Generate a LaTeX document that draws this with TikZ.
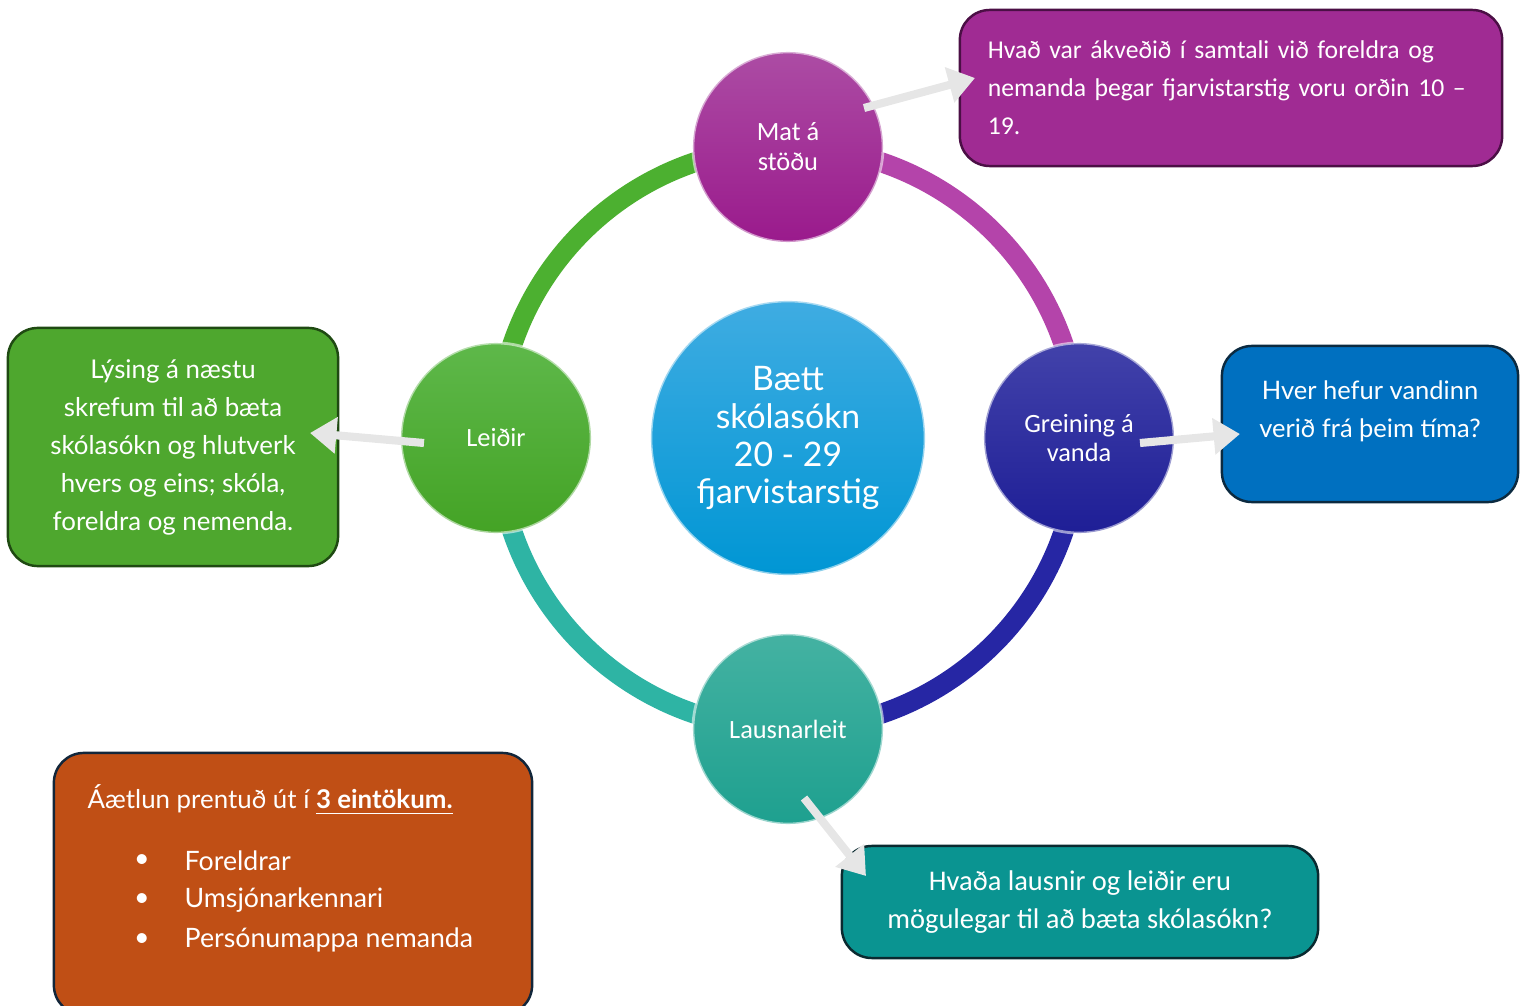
\documentclass[tikz,border=0pt]{standalone}
\usepackage{fontspec}
\setmainfont{Lato}
\newfontfamily\narrowfont{Carlito}
\usetikzlibrary{arrows.meta, positioning}

\definecolor{matcol}{HTML}{A02B93}
\definecolor{matedge}{HTML}{4B0F45}
\definecolor{greincol}{HTML}{0070C0}
\definecolor{greinedge}{HTML}{0B2A40}
\definecolor{leidcol}{HTML}{4EA72E}
\definecolor{leidedge}{HTML}{1F4A12}
\definecolor{lauscol}{HTML}{0A9491}
\definecolor{lausedge}{HTML}{0A2A30}
\definecolor{aaetcol}{HTML}{C04F15}
\definecolor{aaetedge}{HTML}{12263A}
\definecolor{arrowgray}{HTML}{E6E6E6}
% hringir
\definecolor{hubtop}{HTML}{3FACE2}
\definecolor{hubbot}{HTML}{0096D4}
\definecolor{mattop}{HTML}{AC4CA4}
\definecolor{matbot}{HTML}{9A1A8C}
\definecolor{greintop}{HTML}{4242AA}
\definecolor{greinbot}{HTML}{1E1E96}
\definecolor{laustop}{HTML}{44B2A2}
\definecolor{lausbot}{HTML}{1EA08F}
\definecolor{leidtop}{HTML}{5EB84A}
\definecolor{leidbot}{HTML}{44A325}
% hringur
\definecolor{ringmat}{HTML}{B444AA}
\definecolor{ringgrein}{HTML}{2626A4}
\definecolor{ringlaus}{HTML}{2EB4A4}
\definecolor{ringleid}{HTML}{4CB030}

\begin{document}
\begin{tikzpicture}[x=0.01cm, y=-0.01cm,
    ring/.style={line width=5.7pt},
    ball/.style={circle, minimum size=1.9cm, inner sep=0pt, text=white, align=center,
        draw=white, draw opacity=0.55, line width=0.8pt,
        font=\narrowfont\fontsize{7.5}{8.5}\selectfont},
    card/.style={rounded corners=0.3cm, line width=0.7pt, text=white, inner sep=0pt},
    cardtext/.style={text=white, align=center, font=\fontsize{7.3}{10.8}\selectfont},
    hint/.style={draw=arrowgray, line width=2.3pt, -{Triangle[width=10pt,length=7.5pt]}}]

    \useasboundingbox (0,0) rectangle (1520,1006);

    % hringur
    \coordinate (M) at (788,438);
    \draw[ring, ringmat] (M) ++(270:291) arc (270:360:291);
    \draw[ring, ringgrein] (M) ++(0:291) arc (0:90:291);
    \draw[ring, ringlaus] (M) ++(90:291) arc (90:180:291);
    \draw[ring, ringleid] (M) ++(180:291) arc (180:270:291);

    % hringir
    \node[ball, minimum size=2.74cm, top color=hubtop, bottom color=hubbot,
        font=\fontsize{9.6}{10.8}\selectfont] (hub) at (M) {Bætt\\skólasókn\\20 - 29\\fjarvistarstig};
    \node[ball, top color=mattop, bottom color=matbot] (mat) at (788,147) {Mat á\\stöðu};
    \node[ball, top color=greintop, bottom color=greinbot] (grein) at (1079,438) {Greining á\\vanda};
    \node[ball, top color=laustop, bottom color=lausbot] (laus) at (788,729) {Lausnarleit};
    \node[ball, top color=leidtop, bottom color=leidbot] (leid) at (496,438) {Leiðir};

    % kassar
    \node[card, fill=matcol, draw=matedge, minimum width=5.42cm, minimum height=1.56cm,
        text width=4.86cm, align=left, font=\narrowfont\fontsize{7.3}{10.8}\selectfont]
        (matbox) at (1231,88) {Hvað var ákveðið í samtali við foreldra og\\nemanda þegar fjarvistarstig voru orðin 10 –\\19.};
    \node[card, fill=greincol, draw=greinedge, minimum width=2.96cm, minimum height=1.56cm]
        (greinbox) at (1370,424) {};
    \node[cardtext, font=\fontsize{7.25}{10.8}\selectfont] (greintxt) at (1370,411) {Hver hefur vandinn\\verið frá þeim tíma?};
    \node[card, fill=leidcol, draw=leidedge, minimum width=3.3cm, minimum height=2.38cm, cardtext,
        font=\fontsize{7.35}{10.8}\selectfont]
        (leidbox) at (173,447) {Lýsing á næstu\\skrefum til að bæta\\skólasókn og hlutverk\\hvers og eins; skóla,\\foreldra og nemenda.};
    \node[card, fill=lauscol, draw=lausedge, minimum width=4.76cm, minimum height=1.12cm, cardtext,
        font=\narrowfont\fontsize{8.1}{10.8}\selectfont]
        (lausbox) at (1080,902) {Hvaða lausnir og leiðir eru\\mögulegar til að bæta skólasókn?};
    \node[card, fill=aaetcol, draw=aaetedge, minimum width=4.78cm, minimum height=2.62cm]
        (aaetbox) at (293,884) {};
    \node[anchor=west, inner sep=0pt, text=white, font=\fontsize{7.35}{9}\selectfont] (aaettitle) at (87,800)
        {Áætlun prentuð út í \underline{\textbf{3 eintökum.}}};
    \foreach \item/\ypos [count=\i] in {Foreldrar/861, Umsjónarkennari/900, Persónumappa nemanda/940} {
        \node[text=white, inner sep=0pt, font=\fontsize{7.6}{9}\selectfont] (dot\i) at (142,\ypos) {•};
        \node[anchor=west, inner sep=0pt, text=white, font=\fontsize{7.6}{9}\selectfont] (item\i) at (184,\ypos) {\item};
    }

    % orvar
    \coordinate (matstart) at (864,108);
    \coordinate (matend) at (975,78);
    \coordinate (greinstart) at (1140,443);
    \coordinate (greinend) at (1240,434);
    \coordinate (leidstart) at (424,443);
    \coordinate (leidend) at (310,433);
    \coordinate (lausstart) at (804,798);
    \coordinate (lausend) at (866,876);
    \draw[hint] (matstart) -- (matend);
    \draw[hint] (greinstart) -- (greinend);
    \draw[hint] (leidstart) -- (leidend);
    \draw[hint] (lausstart) -- (lausend);
\end{tikzpicture}
\end{document}
